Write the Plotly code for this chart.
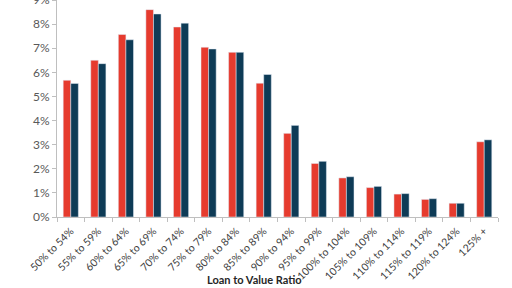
import plotly.graph_objects as go

categories = ["50% to 54%", "55% to 59%", "60% to 64%", "65% to 69%", "70% to 74%",
              "75% to 79%", "80% to 84%", "85% to 89%", "90% to 94%", "95% to 99%",
              "100% to 104%", "105% to 109%", "110% to 114%", "115% to 119%",
              "120% to 124%", "125% +"]
series_red = [5.67, 6.5, 7.57, 8.6, 7.88, 7.04, 6.83, 5.55, 3.47, 2.22,
              1.62, 1.22, 0.95, 0.73, 0.57, 3.12]
series_blue = [5.54, 6.36, 7.35, 8.42, 8.04, 6.97, 6.83, 5.91, 3.8, 2.31,
               1.67, 1.27, 0.97, 0.76, 0.57, 3.2]
y_ticks = [0, 1, 2, 3, 4, 5, 6, 7, 8, 9]
y_tick_labels = [f"{v}%" for v in y_ticks]
x_title = "Loan to Value Ratio"

fig = go.Figure()
fig.add_trace(go.Bar(x=categories, y=series_red, marker_color="#E63B2E", name="A"))
fig.add_trace(go.Bar(x=categories, y=series_blue, marker_color="#0E3B56", name="B"))

font_family = "Lato, Open Sans, sans-serif"
fig.update_layout(
    width=512, height=288,
    margin=dict(l=57, r=14, t=0, b=71),
    paper_bgcolor="white", plot_bgcolor="white",
    barmode="group", bargap=0.45, bargroupgap=0,
    showlegend=False,
    font=dict(family=font_family, color="#595959"),
)
fig.update_xaxes(
    tickangle=-45, tickfont=dict(size=10.5, color="#404040"),
    ticklabelstandoff=3,
    showline=True, linecolor="#BFBFBF", linewidth=1,
    ticks="outside", ticklen=4, tickcolor="#BFBFBF", tickson="boundaries",
    showgrid=False, automargin=False,
)
fig.update_yaxes(
    range=[0, 9], tickvals=y_ticks, ticktext=y_tick_labels,
    tickfont=dict(size=12, color="#595959"), ticklabeloverflow="allow",
    showline=True, linecolor="#BFBFBF", linewidth=1,
    ticks="outside", ticklen=4, tickcolor="#BFBFBF",
    showgrid=False, zeroline=False, automargin=False,
)
fig.add_annotation(
    text=f"<b>{x_title}</b>", xref="paper", yref="paper",
    x=0.447, y=-0.327, xanchor="center", yanchor="bottom", showarrow=False,
    font=dict(size=11, color="#262626", family=font_family),
)
fig.write_html("out.html")
